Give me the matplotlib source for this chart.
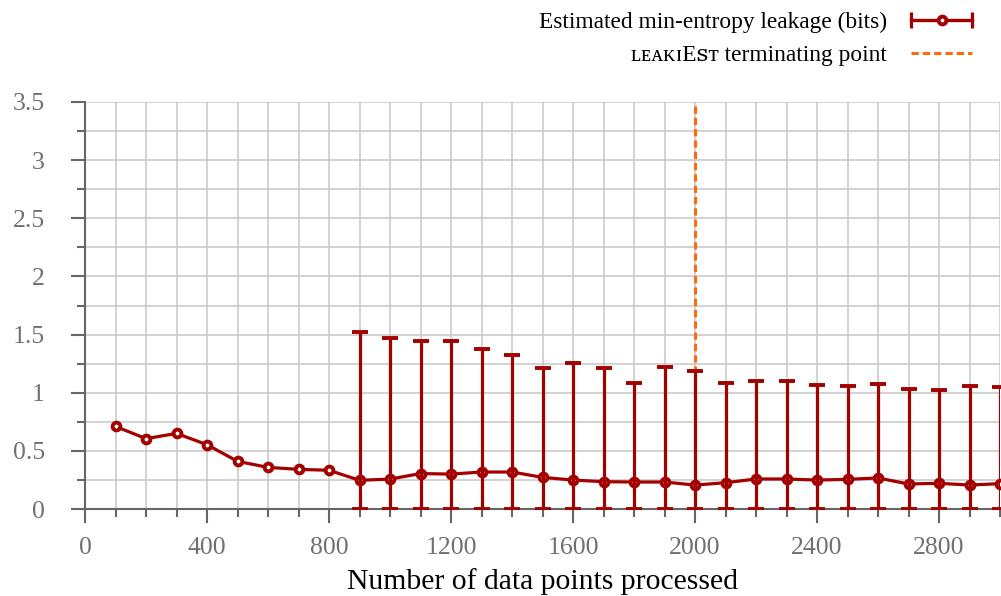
import numpy as np
import matplotlib
matplotlib.use("Agg")
from matplotlib import pyplot as plt
from matplotlib.lines import Line2D
from matplotlib.legend_handler import HandlerLine2D
from matplotlib.ticker import MultipleLocator

# data
points = [100, 200, 300, 400, 500, 600, 700, 800, 900, 1000,
          1100, 1200, 1300, 1400, 1500, 1600, 1700, 1800, 1900, 2000,
          2100, 2200, 2300, 2400, 2500, 2600, 2700, 2800, 2900, 3000]
leakage = [0.71, 0.605, 0.65, 0.553, 0.41, 0.358, 0.341, 0.333, 0.247, 0.257,
           0.305, 0.300, 0.318, 0.318, 0.272, 0.249, 0.235, 0.232, 0.232, 0.206,
           0.226, 0.258, 0.258, 0.249, 0.255, 0.267, 0.215, 0.221, 0.206, 0.218]
# confidence interval bounds (none before 900 points)
upper = [None] * 8 + [1.522, 1.468, 1.442, 1.447, 1.376, 1.324, 1.210, 1.253,
                      1.212, 1.086, 1.218, 1.184, 1.086, 1.103, 1.103, 1.066,
                      1.057, 1.075, 1.029, 1.020, 1.057, 1.046]
lower = [None] * 8 + [0.0] * 22
terminate_at = 2000
yticks = [0, 0.5, 1, 1.5, 2, 2.5, 3, 3.5]
ytick_labels = ["0", "0.5", "1", "1.5", "2", "2.5", "3", "3.5"]

red = "#a30000"
orange = "#ff6a10"
gray = "#666666"
plt.rcParams["font.family"] = ["Liberation Serif", "DejaVu Serif"]

y = np.array(leakage)
up = np.array(upper, dtype=float)
lo = np.array(lower, dtype=float)
yerr = np.vstack([y - lo, up - y])

fig = plt.figure(figsize=(10.01, 5.96), dpi=100)
ax = fig.add_axes([85 / 1001, 1 - 509 / 596, 915 / 1001, 407 / 596])

vline = ax.axvline(terminate_at, color=orange, lw=2.2, ls=(0, (2.4, 1.3)), zorder=2)
eb = ax.errorbar(points, leakage, yerr=yerr, color=red, lw=2.3, elinewidth=2.3,
                 capsize=6, capthick=2.3, marker="o", ms=5.6, mew=2.8,
                 mfc="white", mec=red, zorder=3)
# error bars over the markers, like the original
data_line, caplines, barcols = eb.lines
data_line.set_zorder(3)
for c in caplines:
    c.set_zorder(4)
for b in barcols:
    b.set_zorder(4)

ax.set_xlim(0, 3000)
ax.set_ylim(0, 3.5)
ax.xaxis.set_major_locator(MultipleLocator(400))
ax.xaxis.set_minor_locator(MultipleLocator(100))
ax.set_yticks(yticks)
ax.set_yticklabels(ytick_labels)
ax.yaxis.set_minor_locator(MultipleLocator(0.25))

ax.grid(which="both", color="#c6c6c6", lw=1.1, zorder=0)
ax.set_axisbelow(True)
for s in ["top", "right"]:
    ax.spines[s].set_visible(False)
for s in ["left", "bottom"]:
    ax.spines[s].set_color(gray)
    ax.spines[s].set_linewidth(1.5)

ax.tick_params(which="major", length=10, width=1.5, color=gray,
               labelcolor="#707070", labelsize=18.5)
ax.tick_params(which="minor", length=5.5, width=1.5, color=gray)
ax.tick_params(axis="y", which="major", pad=19)
ax.tick_params(axis="x", which="major", pad=10)

ax.set_xlabel("Number of data points processed", fontsize=21.3, labelpad=7)

# legend handle: horizontal bar with end caps and a centre marker
caps = Line2D([], [], color=red, lw=2.3, marker="|", ms=11, mew=2.3)
dot = Line2D([], [], color=red, lw=2.3, marker="o", ms=5.6, mew=2.8,
             mfc="white", mec=red)
ax.legend([(caps, dot), vline],
          ["Estimated min-entropy leakage (bits)", "ʟᴇᴀᴋɪEꜱᴛ terminating point"],
          handler_map={caps: HandlerLine2D(numpoints=2, marker_pad=0)},
          loc="upper right", bbox_to_anchor=(972 / 1001, 1 - 12 / 596),
          bbox_transform=fig.transFigure, frameon=False, markerfirst=False,
          fontsize=16.8, handlelength=2.6, handletextpad=1.05,
          borderpad=0, borderaxespad=0, labelspacing=0.5)

fig.savefig("out.png", dpi=100)
